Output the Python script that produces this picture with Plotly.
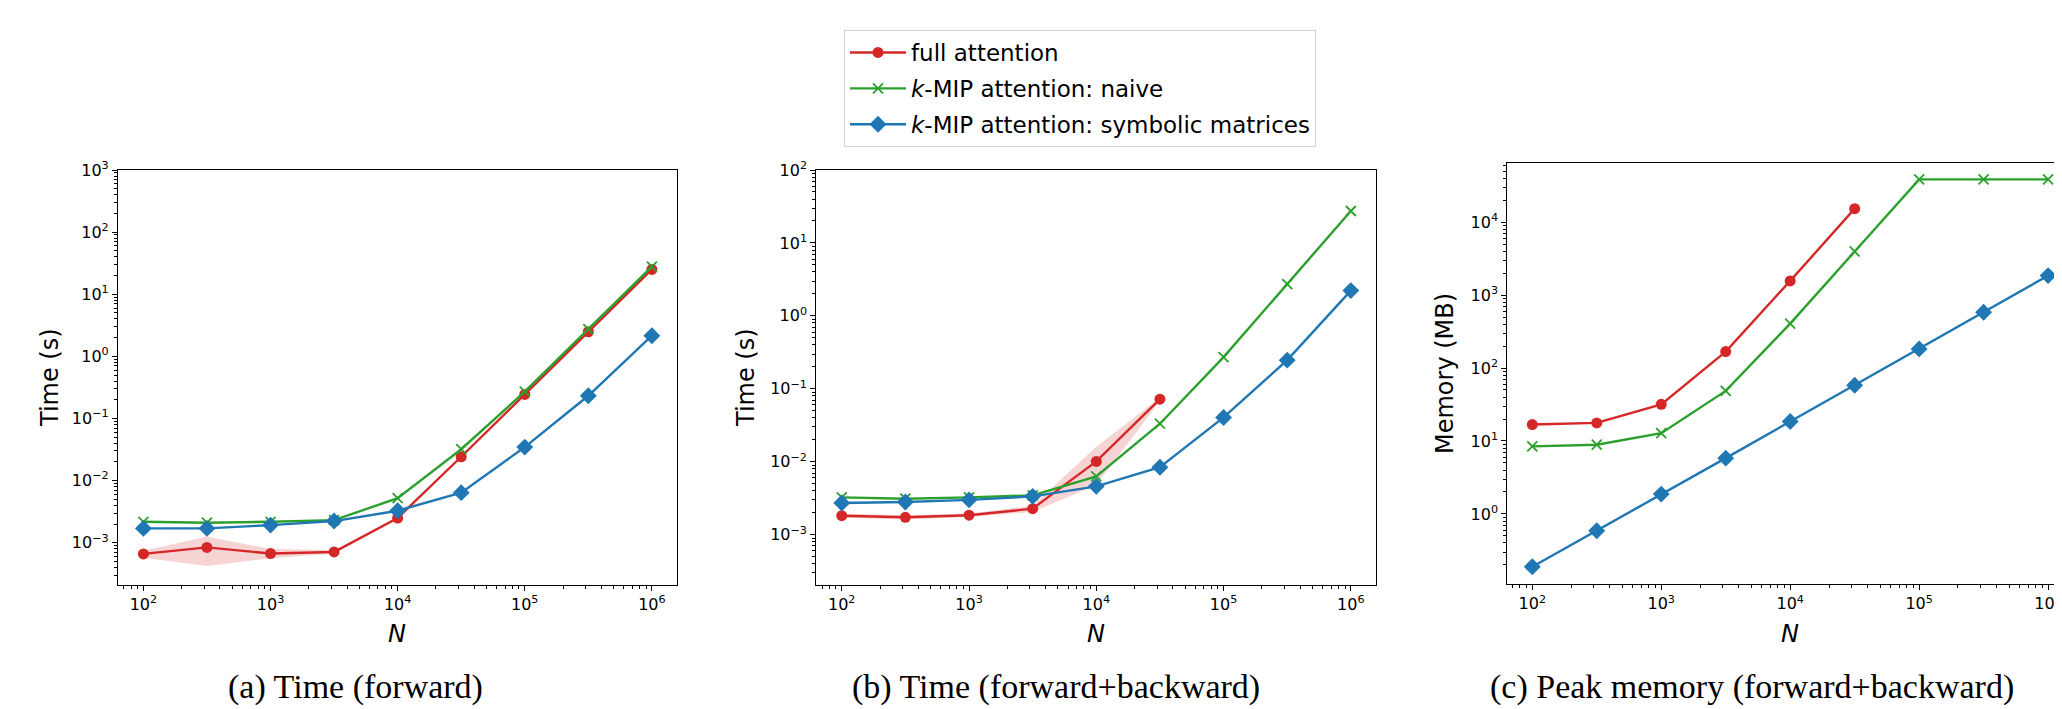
import plotly.graph_objects as go

# ---------------- data ----------------
N = [100, 316, 1000, 3162, 10000, 31623, 100000, 316228, 1000000]
N_full_b = [100, 316, 1000, 3162, 10000, 31623]

# (a) forward time (s)
fwd_full = [6.6e-4, 8.4e-4, 6.7e-4, 7.1e-4, 2.5e-3, 0.0242, 0.244, 2.49, 25.1]
fwd_full_hi = [7.4e-4, 1.26e-3, 7.9e-4, 7.6e-4, 2.6e-3, 0.0248, 0.25, 2.53, 25.5]
fwd_full_lo = [5.7e-4, 4.2e-4, 5.6e-4, 6.7e-4, 2.4e-3, 0.0236, 0.238, 2.45, 24.7]
fwd_naive = [2.17e-3, 2.1e-3, 2.17e-3, 2.31e-3, 5.2e-3, 0.032, 0.27, 2.75, 27.8]
fwd_sym = [1.7e-3, 1.7e-3, 1.92e-3, 2.23e-3, 3.27e-3, 6.4e-3, 0.0346, 0.232, 2.15]

# (b) forward+backward time (s)
fb_full = [1.82e-3, 1.73e-3, 1.85e-3, 2.27e-3, 0.0101, 0.072]
fb_full_hi = [1.95e-3, 1.85e-3, 1.95e-3, 2.5e-3, 0.016, 0.076]
fb_full_lo = [1.7e-3, 1.62e-3, 1.75e-3, 2.05e-3, 0.0048, 0.068]
fb_naive = [3.25e-3, 3.11e-3, 3.25e-3, 3.46e-3, 6.3e-3, 0.0332, 0.272, 2.72, 27.4]
fb_sym = [2.72e-3, 2.8e-3, 3.0e-3, 3.35e-3, 4.6e-3, 8.4e-3, 0.0405, 0.247, 2.22]

# (c) peak memory (MB)
mem_full = [16.8, 17.7, 31.8, 168, 1563, 15280]
mem_naive = [8.44, 8.9, 12.8, 48.6, 406, 3972, 38500, 38500, 38500]
mem_sym = [0.189, 0.589, 1.87, 5.82, 18.5, 58.2, 183, 582, 1849]

x_exps = [2, 3, 4, 5, 6]
ya_exps = [-3, -2, -1, 0, 1, 2, 3]
yb_exps = [-3, -2, -1, 0, 1, 2]
yc_exps = [0, 1, 2, 3, 4]

names = ["full attention", "<i>k</i>-MIP attention: naive",
         "<i>k</i>-MIP attention: symbolic matrices"]
captions = ["(a) Time (forward)", "(b) Time (forward+backward)",
            "(c) Peak memory (forward+backward)"]
ytitles = ["Time (s)", "Time (s)", "Memory (MB)"]
xtitle = "<i>N</i>"

RED, GREEN, BLUE = "#d62728", "#2ca02c", "#1f77b4"
W, H = 2062, 709

fig = go.Figure()


def add_panel(k, full_x, full, hi, lo, naive, sym, legend):
    xa = "x" if k == 1 else f"x{k}"
    ya = "y" if k == 1 else f"y{k}"
    if hi is not None:
        fig.add_trace(go.Scatter(
            x=list(full_x) + list(full_x)[::-1], y=list(hi) + list(lo)[::-1],
            fill="toself", fillcolor="rgba(214,39,40,0.2)", line=dict(width=0),
            mode="lines", hoverinfo="skip", showlegend=False, xaxis=xa, yaxis=ya))
    fig.add_trace(go.Scatter(
        x=full_x, y=full, mode="lines+markers", name=names[0], legendgroup="g1",
        line=dict(color=RED, width=2.4), marker=dict(symbol="circle", size=11, color=RED),
        showlegend=legend, xaxis=xa, yaxis=ya))
    fig.add_trace(go.Scatter(
        x=N, y=naive, mode="lines+markers", name=names[1], legendgroup="g2",
        line=dict(color=GREEN, width=2.4),
        marker=dict(symbol="x-thin", size=10, color=GREEN, line=dict(width=1.8, color=GREEN)),
        showlegend=legend, xaxis=xa, yaxis=ya))
    fig.add_trace(go.Scatter(
        x=N, y=sym, mode="lines+markers", name=names[2], legendgroup="g3",
        line=dict(color=BLUE, width=2.4), marker=dict(symbol="diamond", size=13, color=BLUE),
        showlegend=legend, xaxis=xa, yaxis=ya))


add_panel(1, N, fwd_full, fwd_full_hi, fwd_full_lo, fwd_naive, fwd_sym, True)
add_panel(2, N_full_b, fb_full, fb_full_hi, fb_full_lo, fb_naive, fb_sym, False)
add_panel(3, N_full_b, mem_full, None, None, mem_naive, mem_sym, False)


def pw(e):
    return "10<sup>" + ("\u2212" if e < 0 else "") + str(abs(e)) + "</sup>"


def minor_vals(lo, hi):
    vals = []
    for e in range(lo, hi):
        for d in range(2, 10):
            vals.append(d * 10 ** e)
    return vals


tickfont = dict(family="DejaVu Sans", size=16, color="black")
titlefont = dict(family="DejaVu Sans", size=24, color="black")

# geometry (pixels)
xdom = [(110, 669.3), (808.3, 1368.3), (1499.3, 2062)]
ydom = [(162, 576.7), (162, 576.7), (155, 576)]
xranges = [[1.8, 6.2], [1.8, 6.2], [1.806, 6.17]]
yranges = [[-3.676, 3.0], [-3.686, 2.0], [-0.96, 4.81]]
yexps = [ya_exps, yb_exps, yc_exps]

layout = {}
for i in range(3):
    k = i + 1
    xn = "xaxis" if k == 1 else f"xaxis{k}"
    yn = "yaxis" if k == 1 else f"yaxis{k}"
    yref = "y" if k == 1 else f"y{k}"
    xref = "x" if k == 1 else f"x{k}"
    layout[xn] = dict(
        type="log", domain=[xdom[i][0] / W, min(1.0, xdom[i][1] / W)],
        range=xranges[i], anchor=yref,
        tickmode="array", tickvals=[10 ** e for e in x_exps], ticktext=[pw(e) for e in x_exps],
        ticks="outside", ticklen=5, tickwidth=1.2, tickcolor="black",
        minor=dict(tickmode="array", tickvals=minor_vals(1, 7), ticks="outside",
                   ticklen=3, tickwidth=1, tickcolor="black", showgrid=False),
        showline=True, linecolor="black", linewidth=1.2, mirror=True,
        showgrid=False, zeroline=False, tickfont=tickfont, automargin=False)
    layout[yn] = dict(
        type="log", domain=[1 - ydom[i][1] / H, 1 - ydom[i][0] / H],
        range=yranges[i], anchor=xref,
        tickmode="array", tickvals=[10 ** e for e in yexps[i]], ticktext=[pw(e) for e in yexps[i]],
        ticks="outside", ticklen=5, tickwidth=1.2, tickcolor="black",
        minor=dict(tickmode="array", tickvals=minor_vals(-4, 5), ticks="outside",
                   ticklen=3, tickwidth=1, tickcolor="black", showgrid=False),
        showline=True, linecolor="black", linewidth=1.2, mirror=(i < 2),
        showgrid=False, zeroline=False, tickfont=tickfont, automargin=False)

fig.update_layout(**layout)

# axis titles as annotations (pixel positions)
ytitle_pos = [(42, 370), (738, 370), (1437, 366)]
xtitle_pos = [(389, 626), (1088, 626), (1782, 626)]
for (px, py), txt in zip(ytitle_pos, ytitles):
    fig.add_annotation(x=px / W, y=1 - py / H, xref="paper", yref="paper", text=txt,
                       textangle=-90, showarrow=False, xanchor="center", yanchor="middle",
                       font=titlefont)
for (px, py) in xtitle_pos:
    fig.add_annotation(x=px / W, y=1 - py / H, xref="paper", yref="paper", text=xtitle,
                       showarrow=False, xanchor="center", yanchor="middle", font=titlefont)

cap_x = [347, 1048, 1744]
for cx, txt in zip(cap_x, captions):
    fig.add_annotation(x=cx / W, y=1 - 679 / H, xref="paper", yref="paper",
                       text=txt, showarrow=False, xanchor="center", yanchor="middle",
                       font=dict(family="Liberation Serif", size=34, color="black"))

fig.update_layout(
    width=W, height=H, margin=dict(l=0, r=0, t=0, b=0),
    paper_bgcolor="white", plot_bgcolor="white",
    font=dict(family="DejaVu Sans", size=16, color="black"),
    legend=dict(x=836 / W, y=1 - 22 / H, xanchor="left", yanchor="top",
                bgcolor="white", bordercolor="#d0d0d0", borderwidth=1,
                font=dict(family="DejaVu Sans", size=23, color="black"),
                traceorder="grouped", tracegroupgap=3, itemwidth=56),
    showlegend=True,
)

fig.write_html("out.html")
